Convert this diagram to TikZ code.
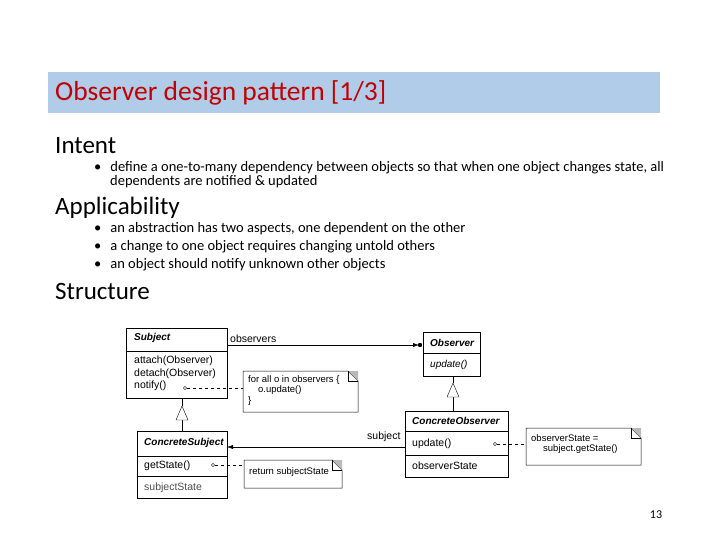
\documentclass[tikz,border=0pt]{standalone}
\usepackage{fontspec}
\setmainfont{Carlito}
\newfontfamily\umlf{Liberation Sans}
\usetikzlibrary{arrows.meta}
\definecolor{bar}{HTML}{B0CCE8}
\definecolor{ttl}{HTML}{C00000}
\begin{document}
\begin{tikzpicture}[x=1pt,y=-1pt,
  box/.style={draw,line width=0.6pt},
  ut/.style={font=\umlf\fontsize{10.5}{12}\selectfont,anchor=west,inner sep=0pt},
  bul/.style={font=\fontsize{14.5}{14}\selectfont,anchor=west,inner sep=0pt,align=left},
  hd/.style={font=\fontsize{25}{27}\selectfont,anchor=west,inner sep=0pt},
  dsh/.style={dashed,line width=0.5pt},
  note/.style={draw,fill=white,line width=0.5pt}]
\useasboundingbox (0,0) rectangle (720,540);
\fill[bar] (48,72) rectangle (660,113);
\node[anchor=west,text=ttl,font=\fontsize{27.5}{30}\selectfont,inner sep=0pt] (title) at (55,93) {Observer design pattern [1/3]};
\node[hd] (h1) at (55,146) {Intent};
\node[bul,anchor=north west] (b1) at (94,161) {\textbullet\hspace{9pt}define a one-to-many dependency between objects so that when one object changes state, all\\\hspace{16pt}dependents are notified \& updated};
\node[hd] (h2) at (55,208) {Applicability};
\node[bul] (b2) at (94,229) {\textbullet\hspace{9pt}an abstraction has two aspects, one dependent on the other};
\node[bul] (b3) at (94,247) {\textbullet\hspace{9pt}a change to one object requires changing untold others};
\node[bul] (b4) at (94,265) {\textbullet\hspace{9pt}an object should notify unknown other objects};
\node[hd] (h3) at (55,291) {Structure};
\node[font=\fontsize{12}{13}\selectfont] (pg) at (656,515) {13};
% Subject
\draw[box] (126,328) rectangle (227,398); \draw (126,351) -- (227,351);
\node[ut,font=\umlf\bfseries\itshape\fontsize{10}{11}\selectfont] (sn) at (134,338) {Subject};
\node[ut] at (134,361) {attach(Observer)};
\node[ut] at (134,374) {detach(Observer)};
\node[ut] at (134,386) {notify()};
\coordinate (sr) at (227,345);
% Observer
\draw[box] (423,332) rectangle (480,376); \draw (423,353) -- (480,353);
\node[ut,font=\umlf\bfseries\itshape\fontsize{10}{11}\selectfont] at (430,343) {Observer};
\node[ut,font=\umlf\itshape\fontsize{10}{11}\selectfont] at (430,365) {update()};
\coordinate (ol) at (423,345);
% ConcreteObserver
\draw[box] (405,411) rectangle (508,477); \draw (405,431) -- (508,431); \draw (405,455) -- (508,455);
\node[ut,font=\umlf\bfseries\itshape\fontsize{10}{11}\selectfont] at (412,421) {ConcreteObserver};
\node[ut] at (412,444) {update()};
\node[ut] at (412,466) {observerState};
% ConcreteSubject
\draw[box] (137,431) rectangle (227,498); \draw (137,456) -- (227,456); \draw (137,476) -- (227,476);
\node[ut,font=\umlf\bfseries\itshape\fontsize{10}{11}\selectfont] at (144,443) {ConcreteSubject};
\node[ut] at (144,466) {getState()};
\node[ut,text=black!70] at (144,488) {subjectState};
% generalizations
\draw (453,376) -- (453,383); \draw (453,397) -- (453,411);
\draw[fill=white] (453,383) -- (447,397) -- (459,397) -- cycle;
\draw (182,398) -- (182,406); \draw (182,420) -- (182,431);
\draw[fill=white] (182,406) -- (176,420) -- (188,420) -- cycle;
% associations
\draw[-{Latex[length=6pt,width=4pt]}] (sr) -- (419,345);
\fill (420,345) circle (2.2pt);
\node[ut] at (230,339) {observers};
\draw[-{Latex[length=6pt,width=4pt]}] (405,447) -- (227,447);
\node[ut] at (367,437) {subject};
% notes
\newcommand\mynote[4]{\draw[note] (#1,#2) -- (#3-10,#2) -- (#3,#2+10) -- (#3,#4) -- (#1,#4) -- cycle;
  \fill[gray!55] (#3-10,#2) -- (#3,#2) -- (#3,#2+10) -- cycle; \draw[line width=0.5pt] (#3-10,#2) -- (#3-10,#2+10) -- (#3,#2+10);}
\mynote{243}{371}{358}{412}
\node[ut,align=left,font=\umlf\fontsize{9.5}{10.5}\selectfont,anchor=north west] (n1) at (248,375) {for all o in observers \{\\\hspace{10pt}o.update()\\\}};
\mynote{244}{460}{342}{488}
\node[ut,font=\umlf\fontsize{9.5}{10.5}\selectfont] (n2) at (249,472) {return subjectState};
\mynote{526}{428}{641}{465}
\node[ut,align=left,font=\umlf\fontsize{9.5}{10.5}\selectfont,anchor=north west] (n3) at (531,434) {observerState =\\\hspace{12pt}subject.getState()};
% dashed note links
\draw[dsh] (187,388) -- (243,388); \draw (185,388) circle (1.6pt);
\draw[dsh] (215,465) -- (244,465); \draw (213,465) circle (1.6pt);
\draw[dsh] (497,444) -- (526,444); \draw (495,444) circle (1.6pt);
\end{tikzpicture}
\end{document}
